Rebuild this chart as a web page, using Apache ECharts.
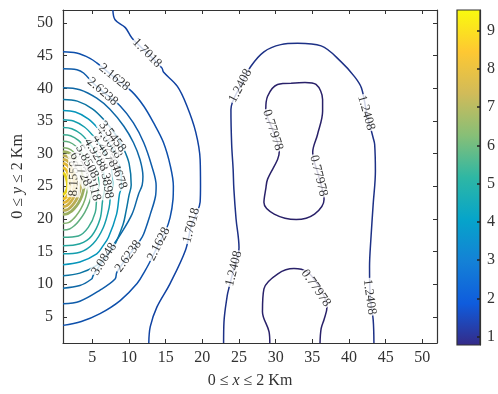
<!DOCTYPE html>
<html>
<head>
<meta charset="utf-8">
<script src="https://cdn.jsdelivr.net/npm/echarts@6/dist/echarts.min.js"></script>
<style>
html, body { margin: 0; padding: 0; background: #fff; }
#container { width: 498px; height: 394px; }
</style>
</head>
<body>
<div id="container"></div>
<script>
// contour levels (value of each line)
var levels = [0.77978, 1.2408, 1.7018, 2.1628, 2.6238, 3.0848, 3.5458, 4.0068, 4.4678,
    4.9288, 5.3898, 5.8508, 6.3118, 6.7728, 7.2338, 7.6948, 8.1558, 8.6168, 9.0778];

// colour bar range
var colorMin = 0.78;
var colorMax = 9.54;

var xTicks = [5, 10, 15, 20, 25, 30, 35, 40, 45, 50];
var yTicks = [5, 10, 15, 20, 25, 30, 35, 40, 45, 50];
var barTicks = [1, 2, 3, 4, 5, 6, 7, 8, 9];

// contour paths, [x, y]
var c0778a = [[32.1,40.8],[34.0,40.9],[35.5,40.6],[36.4,38.3],[36.4,36.5],[35.7,32.9],[35.05,30.2],[35.85,26.6],[36.6,23.0],[35.3,20.75],[32.8,19.9],[29.8,20.75],[28.4,22.5],[28.65,24.6],[28.9,26.1],[30.26,29.1],[30.5,30.4],[29.6,33.6],[28.65,36.75],[28.9,38.8],[30.26,40.6],[32.1,40.8]];
var c0778b = [[29.2,1],[29.1,2.7],[28.2,5.8],[28.4,9.3],[30.3,11.6],[32.5,12.4],[34.3,11.9],[35.6,10.2],[36.6,8.2],[37.0,6.5],[36.6,4.6],[36.2,3.2],[36.05,1]];
var c1241 = [[22.9,1],[22.95,4.2],[23.4,8.3],[23.6,9.3],[24.3,12.4],[25.0,15.6],[24.6,20.0],[24.3,24.6],[24.2,27.6],[24.0,31.4],[23.9,36.75],[25.2,40.4],[26.6,43.35],[28.4,45.6],[30.7,46.7],[33.0,46.9],[36.2,46.5],[38.9,44.1],[40.75,41.8],[41.7,40.06],[42.4,36.3],[43.3,32.4],[43.5,31.4],[43.6,27.3],[43.3,22.3],[43.0,17.2],[42.8,12.6],[42.9,8.1],[43.3,4.5],[43.4,1]];
var c1702 = [[7.8,52],[8.1,50.5],[9.5,49.3],[10.4,47.7],[12.5,45.4],[14.5,43.1],[14.7,42.5],[16.6,40.3],[17.9,37.3],[19.1,33.3],[19.7,29.1],[19.75,25.1],[19.7,22.6],[19.2,20.8],[18.5,19.0],[17.7,15.2],[15.6,10.1],[13.8,6.5],[12.9,3.5],[12.7,1]];
var c2163 = [[1,45.6],[2.86,45.4],[4.68,44.6],[5.6,43.9],[8.0,41.7],[10.4,39.5],[12.0,37.3],[13.36,34.7],[14.7,31.7],[15.64,28.1],[16.05,25.0],[16.0,23.0],[15.6,20.2],[15.0,18.2],[14.05,16.15],[12.7,13.1],[12.2,12.1],[11.1,10.1],[8.8,7.5],[6.05,5.5],[3.5,4.3],[1,3.7]];
var c2624 = [[1,43.0],[2.9,42.85],[3.8,42.35],[5.2,40.7],[6.4,39.5],[8.8,37.3],[10.6,34.7],[12.0,31.7],[13.1,28.1],[13.7,25.1],[13.6,23.4],[12.9,20.7],[12.0,17.7],[11.5,16.7],[9.9,14.3],[8.35,11.85],[8.1,10.8],[6.05,9.1],[3.3,7.4],[1,7.0]];
var c3085 = [[1,40.1],[3.3,39.8],[5.6,38.5],[7.4,36.8],[9.3,34.2],[10.6,31.7],[11.5,29.1],[11.9,26.5],[11.8,25.2],[11.3,23.8],[10.4,20.7],[8.6,17.2],[8.1,16.4],[6.6,13.85],[5.1,11.3],[4.9,10.8],[3.3,9.8],[1,9.4]];
var c3546 = [[1,38.3],[2.95,38.04],[5.0,36.86],[6.49,35.29],[8.16,32.93],[9.28,30.7],[10.02,28.48],[10.3,25.2],[10.0,23.6],[9.6,21.2],[9.2,19.2],[7.9,15.7],[6.7,14.0],[5.6,12.9],[3.3,11.7],[1,11.3]];
var c4007 = [[1,36.6],[2.68,36.37],[4.44,35.34],[5.72,33.95],[7.16,31.89],[8.12,29.93],[8.76,27.98],[9.0,25.1],[8.7,23.8],[8.3,20.7],[7.2,17.2],[6.4,15.8],[5.6,14.65],[3.3,13.4],[1,13.0]];
var c4468 = [[1,35.2],[2.43,35.0],[3.92,34.08],[5.01,32.85],[6.24,31.02],[7.05,29.28],[7.6,27.55],[7.8,25.0],[7.5,23.8],[7.3,21.8],[6.5,18.7],[5.1,16.2],[3.3,14.9],[1,14.65]];
var c4929 = [[1,34.0],[2.2,33.82],[3.45,33.01],[4.36,31.93],[5.39,30.31],[6.07,28.78],[6.53,27.25],[6.7,25.0],[6.6,24.0],[6.4,22.8],[6.05,20.0],[4.9,17.4],[3.3,16.2],[1,15.9]];
var c5390 = [[1,32.9],[2.03,32.74],[3.11,32.03],[3.89,31.08],[4.77,29.66],[5.36,28.32],[5.75,26.98],[5.9,25.0],[5.8,24.2],[5.6,23.3],[5.4,21.0],[4.45,18.7],[3.1,17.4],[1,17.2]];
var c5851 = [[1,31.9],[1.86,31.76],[2.76,31.14],[3.42,30.31],[4.16,29.07],[4.65,27.9],[4.98,26.73],[5.1,25.0],[4.98,24.2],[4.61,22.59],[3.95,20.98],[3.13,19.64],[2.56,18.97],[1.9,18.47],[1,18.3]];
var c6312 = [[1,30.9],[1.71,30.78],[2.46,30.25],[3.01,29.54],[3.62,28.48],[4.03,27.48],[4.3,26.48],[4.4,25.0],[4.3,24.32],[3.99,22.95],[3.45,21.58],[2.77,20.44],[2.29,19.87],[1.75,19.44],[1,19.3]];
var c6773 = [[1,30.3],[1.61,30.19],[2.25,29.72],[2.71,29.08],[3.23,28.13],[3.58,27.23],[3.81,26.33],[3.9,25.0],[3.81,24.48],[3.55,23.45],[3.09,22.42],[2.51,21.56],[2.1,21.13],[1.64,20.81],[1,20.7]];
var c7234 = [[1,29.7],[1.5,29.61],[2.03,29.18],[2.42,28.62],[2.85,27.77],[3.14,26.97],[3.33,26.18],[3.4,25.0],[3.33,24.56],[3.11,23.67],[2.73,22.78],[2.25,22.04],[1.91,21.67],[1.53,21.39],[1,21.3]];
var c7695 = [[1,29.1],[1.4,29.02],[1.82,28.65],[2.12,28.16],[2.46,27.42],[2.69,26.72],[2.84,26.03],[2.9,25.0],[2.84,24.63],[2.67,23.88],[2.37,23.14],[1.99,22.52],[1.72,22.21],[1.42,21.98],[1,21.9]];
var c8156 = [[1,28.5],[1.32,28.43],[1.65,28.12],[1.89,27.7],[2.16,27.07],[2.34,26.47],[2.46,25.88],[2.5,25.0],[2.46,24.7],[2.32,24.1],[2.08,23.5],[1.78,23.0],[1.57,22.75],[1.33,22.56],[1,22.5]];
var c8617 = [[1,27.8],[1.21,27.74],[1.43,27.49],[1.59,27.16],[1.77,26.65],[1.89,26.18],[1.97,25.7],[2.0,25.0],[1.97,24.77],[1.88,24.32],[1.72,23.86],[1.52,23.48],[1.38,23.29],[1.22,23.15],[1,23.1]];
var c9078 = [[1,27.0],[1.13,26.96],[1.26,26.78],[1.35,26.54],[1.46,26.18],[1.53,25.84],[1.58,25.5],[1.6,25.0],[1.58,24.86],[1.53,24.57],[1.43,24.28],[1.31,24.04],[1.23,23.92],[1.13,23.83],[1,23.8]];

// [level index, path]
var contours = [
    [0, c0778a], [0, c0778b], [1, c1241], [2, c1702], [3, c2163], [4, c2624], [5, c3085],
    [6, c3546], [7, c4007], [8, c4468], [9, c4929], [10, c5390], [11, c5851], [12, c6312],
    [13, c6773], [14, c7234], [15, c7695], [16, c8156], [17, c8617], [18, c9078]
];

// inline labels: x, y, text, angle
var contourLabels = [
    [12.45, 45.4, '1.7018', -45],
    [18.5, 19.0, '1.7018', 75],
    [8.0, 41.7, '2.1628', -39],
    [14.05, 16.15, '2.1628', 63],
    [6.4, 39.5, '2.6238', -41],
    [9.9, 14.3, '2.6238', 54],
    [6.6, 13.85, '3.0848', 57],
    [24.3, 12.4, '1.2408', 76],
    [25.2, 40.4, '1.2408', 62],
    [42.35, 36.25, '1.2408', -74],
    [42.8, 8.05, '1.2408', -82],
    [29.6, 33.6, '0.77978', -72],
    [35.85, 26.6, '0.77978', -76],
    [35.5, 9.4, '0.77978', -55],
    [2.5, 26.2, '8.1558', 88],
    [5.0, 25.4, '6.3118', -75],
    [6.9, 25.8, '5.3898', -80],
    [8.4, 27.2, '4.4678', -70],
    [3.4, 27.6, '6.7728', -65],
    [4.3, 28.8, '5.8508', -62],
    [5.5, 29.8, '4.9288', -60],
    [6.7, 30.4, '4.4678', -58],
    [7.3, 31.7, '4.0068', -55],
    [7.75, 32.6, '3.5458', -52]
];

var parulaStops = ['#352a87', '#0f5cdd', '#1481d6', '#06a4ca', '#2eb7a4', '#87bf77', '#d1bb59', '#fec832', '#f9fb0e'];

function hexToRgb(h) {
    return [parseInt(h.substr(1, 2), 16), parseInt(h.substr(3, 2), 16), parseInt(h.substr(5, 2), 16)];
}
// shade < 1 darkens the colour a little (lines look darker than the bar)
function parula(v, shade) {
    var t = (v - colorMin) / (colorMax - colorMin);
    t = Math.max(0, Math.min(1, t));
    var p = t * (parulaStops.length - 1);
    var i = Math.min(Math.floor(p), parulaStops.length - 2);
    var f = p - i;
    var a = hexToRgb(parulaStops[i]), b = hexToRgb(parulaStops[i + 1]);
    return 'rgb(' + [0, 1, 2].map(function (k) {
        return Math.round((a[k] + (b[k] - a[k]) * f) * shade);
    }).join(',') + ')';
}

var font = 'Liberation Serif';
var axisColor = '#333';

var dom = document.getElementById('container');
var myChart = echarts.init(dom);

var series = contours.map(function (c) {
    var lv = levels[c[0]];
    return {
        type: 'line',
        xAxisIndex: 0,
        yAxisIndex: 0,
        data: c[1],
        symbol: 'none',
        smooth: 0.35,
        silent: true,
        lineStyle: { color: parula(lv, lv < 4 ? 0.78 : 0.92), width: lv > 6.5 ? 2.8 : 1.5 },
        z: 2
    };
});

series.push({
    type: 'scatter',
    xAxisIndex: 0,
    yAxisIndex: 0,
    symbolSize: 0.1,
    itemStyle: { color: 'rgba(0,0,0,0)' },
    silent: true,
    z: 5,
    data: contourLabels.map(function (l) {
        return { value: [l[0], l[1]], name: l[2], label: { rotate: l[3] } };
    }),
    label: {
        show: true,
        position: 'inside',
        formatter: '{b}',
        fontFamily: font,
        fontSize: 13,
        color: '#000',
        backgroundColor: '#fff',
        padding: [0, 1]
    }
});

var gradStops = parulaStops.slice().reverse().map(function (c, i, arr) {
    return { offset: i / (arr.length - 1), color: c };
});

var axisLineStyle = { show: true, onZero: false, lineStyle: { color: axisColor, width: 1.2 } };
var tickLabel = { fontFamily: font, fontSize: 16, color: axisColor };

option = {
    animation: false,
    backgroundColor: '#fff',
    grid: [
        { left: 63, right: 61, top: 10, bottom: 49 },
        {
            left: 457, right: 15, top: 10, bottom: 49, show: true,
            backgroundColor: new echarts.graphic.LinearGradient(0, 0, 0, 1, gradStops),
            borderColor: axisColor, borderWidth: 1.2
        }
    ],
    xAxis: [
        {
            gridIndex: 0, type: 'value', min: 1, max: 52, position: 'bottom',
            axisLine: axisLineStyle,
            axisTick: { inside: true, length: 4, customValues: xTicks, lineStyle: { color: axisColor } },
            axisLabel: Object.assign({ customValues: xTicks, margin: 7 }, tickLabel),
            splitLine: { show: false },
            name: '0 ≤ {i|x} ≤ 2 Km',
            nameLocation: 'middle',
            nameGap: 30,
            nameTextStyle: {
                fontFamily: font, fontSize: 16, color: axisColor,
                rich: { i: { fontFamily: font, fontSize: 16, fontStyle: 'italic', color: axisColor } }
            }
        },
        {
            gridIndex: 0, type: 'value', min: 1, max: 52, position: 'top',
            axisLine: axisLineStyle,
            axisTick: { inside: true, length: 4, customValues: xTicks, lineStyle: { color: axisColor } },
            axisLabel: { show: false },
            splitLine: { show: false }
        },
        { gridIndex: 1, type: 'value', min: 0, max: 1, show: false }
    ],
    yAxis: [
        {
            gridIndex: 0, type: 'value', min: 1, max: 52, position: 'left',
            axisLine: axisLineStyle,
            axisTick: { inside: true, length: 4, customValues: yTicks, lineStyle: { color: axisColor } },
            axisLabel: Object.assign({ customValues: yTicks, margin: 10 }, tickLabel),
            splitLine: { show: false },
            name: '0 ≤ {i|y} ≤ 2 Km',
            nameLocation: 'middle',
            nameGap: 30,
            nameTextStyle: {
                fontFamily: font, fontSize: 16, color: axisColor,
                rich: { i: { fontFamily: font, fontSize: 16, fontStyle: 'italic', color: axisColor } }
            }
        },
        {
            gridIndex: 0, type: 'value', min: 1, max: 52, position: 'right',
            axisLine: axisLineStyle,
            axisTick: { inside: true, length: 4, customValues: yTicks, lineStyle: { color: axisColor } },
            axisLabel: { show: false },
            splitLine: { show: false }
        },
        {
            gridIndex: 1, type: 'value', min: colorMin, max: colorMax, position: 'right',
            axisLine: axisLineStyle,
            axisTick: { inside: true, length: 3, customValues: barTicks, lineStyle: { color: '#222', width: 1.5 } },
            axisLabel: Object.assign({ customValues: barTicks, margin: 7 }, tickLabel),
            splitLine: { show: false }
        }
    ],
    series: series
};

if (option && typeof option === "object") {
    myChart.setOption(option, true);
}
</script>
</body>
</html>
